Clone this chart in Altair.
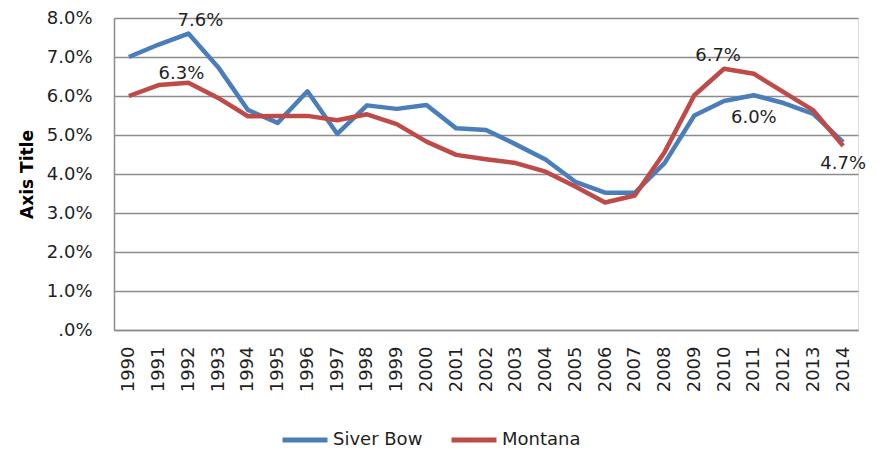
import altair as alt
import pandas as pd

years = [str(y) for y in range(1990, 2015)]
silver_bow = [7.0, 7.32, 7.6, 6.74, 5.64, 5.31, 6.12, 5.03, 5.76, 5.67, 5.77, 5.17, 5.13, 4.76,
              4.37, 3.8, 3.52, 3.52, 4.28, 5.5, 5.87, 6.02, 5.82, 5.54, 4.82]
montana = [6.0, 6.28, 6.34, 5.95, 5.48, 5.49, 5.49, 5.38, 5.53, 5.28, 4.83, 4.49, 4.38, 4.28,
           4.06, 3.68, 3.27, 3.45, 4.56, 6.02, 6.7, 6.57, 6.1, 5.63, 4.72]
series_names = ["Siver Bow", "Montana"]
series_colors = ["#4A7EBB", "#BE4B48"]
y_ticks = [0, 1, 2, 3, 4, 5, 6, 7, 8]
label_points = [("Siver Bow", "1992"), ("Montana", "1992"), ("Montana", "2010"),
                ("Siver Bow", "2011"), ("Montana", "2014")]

rows = []
for name, vals in zip(series_names, [silver_bow, montana]):
    for yr, v in zip(years, vals):
        rows.append({"year": yr, "series": name, "value": v})
df = pd.DataFrame(rows)

FONT = "DejaVu Sans"

x_enc = alt.X("year:O", sort=years, scale=alt.Scale(type="point", padding=0.5),
              axis=alt.Axis(title=None, labelAngle=270, labelAlign="right", labelBaseline="middle",
                            labelPadding=16, ticks=False, domainColor="#8c8c8c", domainWidth=1.5,
                            labelFont=FONT, labelFontSize=18, labelColor="#1f1f1f", grid=False,
                            labelOverlap=False))
y_enc = alt.Y("value:Q", scale=alt.Scale(domain=[0, 8], nice=False, zero=True),
              axis=alt.Axis(title="Axis Title", values=y_ticks, ticks=False, labelPadding=22,
                            labelExpr="datum.value == 0 ? '.0%' : format(datum.value, '.1f') + '%'",
                            labelFont=FONT, labelFontSize=18, labelColor="#1f1f1f",
                            labelOverlap=False,
                            titleFont=FONT, titleFontSize=17, titleFontWeight="bold", titleColor="#000000",
                            titlePadding=10, domainColor="#8c8c8c", domainWidth=1.5,
                            gridColor="#8c8c8c", gridWidth=1.5))

lines = alt.Chart(df).mark_line(strokeWidth=4.5, strokeJoin="round").encode(
    x=x_enc,
    y=y_enc,
    color=alt.Color("series:N", sort=series_names,
                    scale=alt.Scale(domain=series_names, range=series_colors),
                    legend=alt.Legend(title=None, orient="none", legendX=166, legendY=397,
                                      direction="horizontal", symbolType="stroke",
                                      symbolStrokeWidth=5, symbolSize=2025, labelOffset=3,
                                      columnPadding=18, labelFont=FONT, labelFontSize=18,
                                      labelColor="#1f1f1f")),
)

offsets = {("Siver Bow", "1992"): (12, -13), ("Montana", "1992"): (-7, -9),
           ("Montana", "2010"): (-6, -13), ("Siver Bow", "2011"): (0, 23),
           ("Montana", "2014"): (0, 18)}

layers = [lines]
for s, yr in label_points:
    dx, dy = offsets[(s, yr)]
    sub = df[(df.series == s) & (df.year == yr)]
    t = alt.Chart(sub).transform_calculate(
        lab="format(datum.value, '.1f') + '%'"
    ).mark_text(font=FONT, fontSize=18, color="#1f1f1f", dx=dx, dy=dy,
                align="center", baseline="middle").encode(
        x=x_enc, y=y_enc, text="lab:N")
    layers.append(t)

chart = alt.layer(*layers).properties(
    width=744, height=312,
    autosize=alt.AutoSizeParams(type="none"),
    padding={"left": 106, "top": 10, "right": 11, "bottom": 119},
).configure_view(stroke=None).configure(background="white")

chart.save("out.html", embed_options={"renderer": "svg", "actions": False})
